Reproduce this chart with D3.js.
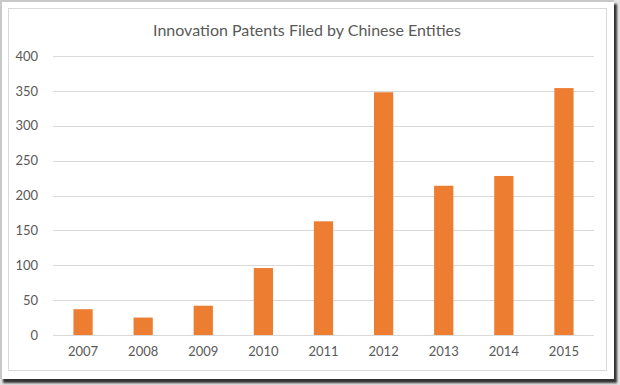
<!DOCTYPE html>
<html>
<head>
<meta charset="utf-8">
<script src="https://cdn.jsdelivr.net/npm/d3@7"></script>
<style>
  body { margin: 0; background: #fff; }
  svg text { font-family: Lato, "Open Sans", sans-serif; fill: #595959; }
</style>
</head>
<body>
<div id="chart"></div>
<script>
// chart data
var years = ["2007", "2008", "2009", "2010", "2011", "2012", "2013", "2014", "2015"];
var patents = [37, 25, 42, 96, 163, 348, 214, 228, 354];
var yTicks = [0, 50, 100, 150, 200, 250, 300, 350, 400];
var title = "Innovation Patents Filed by Chinese Entities";

var width = 620, height = 385;
var margin = {top: 56, right: 26, bottom: 50, left: 53};

var svg = d3.select("#chart").append("svg")
    .attr("width", width)
    .attr("height", height);

var defs = svg.append("defs");
defs.append("filter")
    .attr("id", "blur")
    .append("feGaussianBlur")
    .attr("stdDeviation", 1.2);

// background, drop shadow, white panel, chart box
svg.append("rect")
    .attr("width", width).attr("height", height)
    .attr("fill", "#e4e4e4");
svg.append("rect")
    .attr("x", 3).attr("y", 4)
    .attr("width", 614).attr("height", 379)
    .attr("fill", "#333")
    .attr("filter", "url(#blur)");
svg.append("rect")
    .attr("x", 0).attr("y", 0)
    .attr("width", 614).attr("height", 379)
    .attr("fill", "#fff");
svg.append("path")
    .attr("d", "M1,379V1H614")
    .attr("fill", "none")
    .attr("stroke", "#c8c8c8")
    .attr("stroke-width", 2);
svg.append("rect")
    .attr("x", 8.5).attr("y", 8.5)
    .attr("width", 598).attr("height", 362)
    .attr("fill", "#fff").attr("stroke", "#d9d9d9");

var x = d3.scaleBand()
    .domain(years)
    .range([margin.left, width - margin.right])
    .paddingInner(0.68)
    .paddingOuter(0.34);

var y = d3.scaleLinear()
    .domain([0, 400])
    .range([height - margin.bottom, margin.top]);

// gridlines
svg.append("g")
    .selectAll("line")
    .data(yTicks)
    .enter()
    .append("line")
    .attr("x1", margin.left)
    .attr("x2", width - margin.right)
    .attr("y1", function(d){ return Math.round(y(d)) + 0.5; })
    .attr("y2", function(d){ return Math.round(y(d)) + 0.5; })
    .attr("stroke", "#d9d9d9")
    .attr("stroke-width", 1);

// y axis labels
var yAxis = d3.axisLeft(y).tickValues(yTicks).tickSize(0).tickPadding(15);
var gy = svg.append("g")
    .attr("transform", "translate(" + margin.left + ",0)")
    .call(yAxis);
gy.select(".domain").remove();
gy.selectAll("text")
    .style("font-size", "13px")
    .attr("fill", "#595959");

// x axis labels
var xAxis = d3.axisBottom(x).tickSize(0).tickPadding(12);
var gx = svg.append("g")
    .attr("transform", "translate(0," + (height - margin.bottom) + ")")
    .call(xAxis);
gx.select(".domain").remove();
gx.selectAll("text")
    .style("font-size", "13px")
    .attr("fill", "#595959");

// bars
svg.append("g")
    .selectAll("rect")
    .data(patents)
    .enter()
    .append("rect")
    .attr("x", function(d, i){ return x(years[i]); })
    .attr("y", function(d){ return y(d); })
    .attr("width", x.bandwidth())
    .attr("height", function(d){ return y(0) - y(d); })
    .attr("fill", "#ed7d31");

svg.append("text")
    .attr("x", 307)
    .attr("y", 36)
    .attr("text-anchor", "middle")
    .style("font-size", "16px")
    .text(title);
</script>
</body>
</html>
